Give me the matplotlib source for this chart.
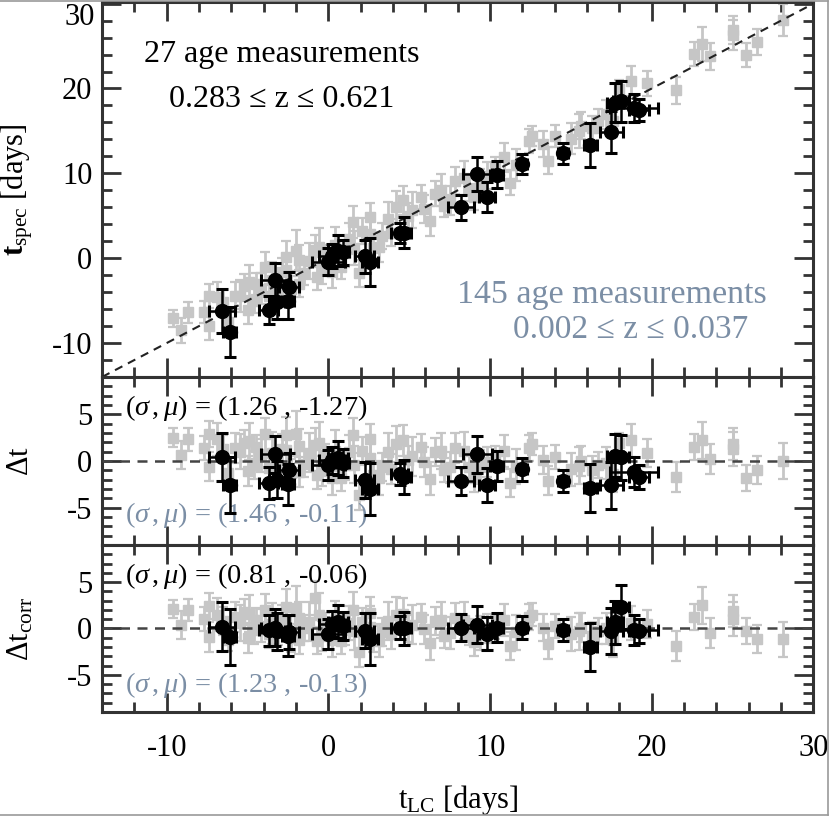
import numpy as np
import matplotlib.pyplot as plt
from matplotlib.ticker import MultipleLocator, FuncFormatter
from matplotlib.lines import Line2D

plt.rcParams['font.family'] = ['Liberation Serif', 'DejaVu Serif']
plt.rcParams['mathtext.fontset'] = 'custom'
plt.rcParams['mathtext.rm'] = 'Liberation Serif'
plt.rcParams['mathtext.it'] = 'Liberation Serif:italic'
plt.rcParams['mathtext.bf'] = 'Liberation Serif:bold'
plt.rcParams['axes.unicode_minus'] = False

# nizky z (sedive ctverecky)
gray_lc = [-9.6, -9.1, -8.7, -7.7, -7.4, -7.4, -6.9, -6.5, -6.2, -5.8,
           -5.5, -5.2, -5.0, -4.9, -4.6, -4.5, -4.2, -3.9, -3.7, -3.5,
           -3.1, -2.9, -2.65, -2.6, -2.3, -2.0, -1.85, -1.85, -1.5, -1.2,
           -0.8, -0.7, -0.6, -0.4, -0.2, 0.2, 0.4, 0.8, 1.0, 1.3,
           1.5, 1.6, 1.9, 2.1, 2.55, 2.6, 2.75, 3.1, 3.3, 3.7,
           3.9, 4.2, 4.6, 4.9, 5.2, 5.7, 5.9, 6.3, 6.6, 6.95,
           7.15, 7.5, 7.8, 8.4, 8.7, 9.0, 9.4, 9.8, 10.3, 10.85,
           11.25, 11.6, 12.4, 12.6, 13.3, 13.6, 14.0, 15.0, 15.5, 15.65,
           16.3, 16.65, 17.2, 17.6, 18.0, 18.7, 19.7, 21.5, 22.6, 23.1,
           23.6, 25.0, 25.05, 25.8, 26.5, 28.1]
gray_spec = [-7.1, -8.5, -6.4, -6.3, -8.0, -4.5, -4.6, -5.2, -7.5, -4.4,
             -4.5, -3.3, -6.1, -2.8, -5.0, -3.0, -3.6, -1.0, -4.5, -2.6,
             -3.8, -1.6, 0.15, -1.4, -3.6, 0.9, -0.25, -3.0, -1.8, -0.3,
             0.95, -2.2, 1.3, -1.5, 0.4, -1.6, 1.5, -1.0, 0.6, 2.3,
             4.25, 1.2, -1.8, 3.2, 4.85, 2.9, 1.2, 1.3, 2.6, 4.65,
             3.0, 6.0, 6.8, 5.0, 5.7, 7.2, 5.8, 4.4, 7.6, 8.0,
             6.2, 6.8, 9.15, 9.5, 8.1, 7.2, 8.75, 9.7, 10.6, 11.9,
             8.9, 11.0, 13.8, 14.4, 13.45, 11.5, 14.4, 14.1, 15.0, 15.6,
             15.3, 16.2, 16.95, 16.2, 19.9, 20.9, 20.6, 19.8, 24.1, 25.3,
             23.8, 26.3, 26.9, 23.95, 25.5, 28.1]
gray_err = [1.0, 1.5, 1.2, 1.3, 1.6, 1.4, 1.8, 1.5, 1.2, 1.6,
            1.9, 1.4, 1.6, 2.0, 1.5, 1.3, 1.8, 1.7, 1.5, 2.2,
            1.4, 1.6, 1.9, 1.3, 1.5, 2.4, 1.8, 1.6, 1.4, 2.1,
            1.8, 1.5, 2.3, 1.6, 1.2, 1.9, 2.2, 1.4, 1.6, 1.8,
            1.9, 2.0, 1.6, 1.5, 1.7, 2.2, 1.4, 1.8, 1.5, 2.0,
            1.6, 1.9, 1.7, 1.5, 2.1, 1.4, 1.6, 1.8, 1.5, 1.9,
            1.3, 1.7, 1.6, 2.0, 1.4, 1.5, 1.8, 1.6, 1.3, 1.7,
            1.5, 1.9, 1.4, 1.2, 1.5, 1.6, 1.3, 1.8, 2.0, 1.6,
            1.5, 1.4, 1.7, 1.9, 1.1, 1.8, 1.5, 1.6, 1.4, 2.0,
            1.6, 1.8, 1.7, 1.4, 1.5, 1.9]
gray_corr = [2.1, 0.4, 2.0, 1.0, -0.9, 2.4, 1.5, 0.8, -1.2, 1.2,
             0.6, 1.8, -1.0, 1.6, -0.2, 0.9, 0.3, 2.0, -0.6, 0.5,
             -0.4, 0.9, 2.3, 0.8, -1.0, 2.2, 1.1, -1.2, 0.0, 0.7,
             3.3, -1.3, 1.5, -0.8, 0.5, -1.2, 0.8, -1.4, -0.2, 0.6,
             2.0, -0.3, -2.5, 0.7, 1.7, 0.2, -1.1, -1.3, -0.4, 0.8,
             -0.6, 1.5, 1.6, 0.0, 0.4, 1.2, -0.1, -1.6, 0.8, 0.9,
             -0.8, -0.5, 1.1, 0.9, -0.4, -1.5, -0.5, 0.0, 0.2, 0.9,
             -1.9, -0.4, 1.2, 1.5, 0.1, -1.7, 0.3, -0.6, -0.3, 0.1,
             -0.8, -0.3, 0.0, -1.2, 1.2, 0.6, 0.45, -1.9, 1.2, 2.5,
             -0.45, 1.0, 1.9, -0.25, -1.15, -1.15]

# vysoky z (cerne kolecka)
black_lc = [-6.6, -6.1, -3.7, -3.3, -3.2, -2.45, -2.5, 0.0, 0.2, 0.6,
            0.9, 2.25, 2.55, 4.4, 4.7, 8.2, 9.2, 9.8, 10.4, 12.0,
            14.5, 16.2, 17.5, 17.75, 18.1, 18.9, 19.2]
black_lc_err = [0.8, 0.4, 0.6, 0.9, 0.5, 0.6, 0.4, 1.0, 0.8, 0.6,
                0.4, 0.6, 0.5, 0.5, 0.4, 0.8, 0.9, 0.5, 0.4, 0.3,
                0.3, 0.4, 0.7, 0.5, 0.5, 1.5, 0.6]
black_spec = [-6.2, -8.7, -6.1, -2.6, -5.2, -3.45, -5.0, -0.4, 0.25, 0.9,
              0.7, 0.2, -0.45, 3.0, 3.0, 6.0, 9.9, 7.2, 9.85, 11.1,
              12.35, 13.3, 14.9, 18.3, 18.5, 17.7, 17.5]
black_spec_err = [2.6, 3.0, 1.7, 2.0, 2.0, 1.8, 2.2, 1.6, 1.4, 1.8,
                  1.5, 1.9, 2.8, 1.2, 1.8, 1.5, 2.0, 1.8, 1.6, 1.2,
                  1.2, 2.6, 2.5, 2.3, 2.4, 1.6, 1.3]
black_corr = [0.2, -0.9, -0.2, 0.1, -0.3, -0.4, -0.8, -0.6, 0.5, 0.75,
              0.3, -0.25, -1.15, 0.1, 0.0, 0.1, 0.4, -0.55, 0.1, 0.1,
              -0.2, -2.0, -0.3, 0.65, 2.3, -0.2, -0.3]

gray_lc = np.array(gray_lc)
gray_spec = np.array(gray_spec)
black_lc = np.array(black_lc)
black_spec = np.array(black_spec)
gray_dt = gray_spec - gray_lc
black_dt = black_spec - black_lc

GRAY = "#c6c6c6"
SLATE = "#7b8ea5"
FRAME = "#333333"
FS = 22      # popisky os
FT = 23      # texty v hornim panelu
FSIG = 20.5  # (sigma, mu)

fig = plt.figure(figsize=(8.3, 8.17), dpi=100)
L, W = 0.123, 0.857
ax1 = fig.add_axes([L, 0.5386, W, 0.459])
ax2 = fig.add_axes([L, 0.333, W, 0.2056])
ax3 = fig.add_axes([L, 0.1285, W, 0.2045])

# tenky ramecek kolem celeho obrazku jako v originale
fig.add_artist(Line2D([0, 0.997], [0.999, 0.999], transform=fig.transFigure, color="#999999", lw=1.2))
fig.add_artist(Line2D([0.997, 0.997], [0.003, 0.999], transform=fig.transFigure, color="#999999", lw=1.2))
fig.add_artist(Line2D([0, 0.997], [0.003, 0.003], transform=fig.transFigure, color="#999999", lw=1.2))


def kresli(ax, yg, yb):
    ax.errorbar(gray_lc, yg, yerr=gray_err, fmt="s", color=GRAY, ms=7,
                elinewidth=2, capsize=3.5, capthick=1.6, zorder=2)
    ax.errorbar(black_lc, yb, xerr=black_lc_err, yerr=black_spec_err, fmt="o",
                color="black", ms=10, elinewidth=1.8, capsize=4.5, capthick=2.2, zorder=4)


kresli(ax1, gray_spec, black_spec)
kresli(ax2, gray_dt, black_dt)
kresli(ax3, gray_corr, black_corr)

ax1.plot([-14, 30], [-14, 30], ls=(0, (4, 3)), color="#222222", lw=1.5, zorder=3)
for ax in (ax2, ax3):
    ax.axhline(0, ls=(0, (4, 3)), color="#444444", lw=1.8, zorder=3)

for ax in (ax1, ax2, ax3):
    ax.set_xlim(-14, 30)
    ax.xaxis.set_major_locator(MultipleLocator(10))
    ax.xaxis.set_minor_locator(MultipleLocator(2))
    ax.tick_params(which="both", direction="in", top=True, right=True,
                   labelsize=FS, color=FRAME, width=2)
    ax.tick_params(axis="y", pad=7)
    ax.tick_params(axis="x", pad=16)
    ax.tick_params(which="major", length=14)
    ax.tick_params(which="minor", length=7)
    for s in ax.spines.values():
        s.set_linewidth(2.2)
        s.set_color(FRAME)
    ax.yaxis.set_label_coords(-0.094, 0.5)

ax1.set_ylim(-14, 30.2)
ax1.yaxis.set_major_locator(MultipleLocator(10))
ax1.yaxis.set_minor_locator(MultipleLocator(2))
# popisek 30 je v originale posunuty dolu
ax1.yaxis.set_major_formatter(FuncFormatter(lambda v, p: "" if v > 25 else f"{v:.0f}"))
ax1.annotate("30", xy=(0, 30), xycoords=("axes fraction", "data"),
             xytext=(-5, -10), textcoords="offset points",
             ha="right", va="center", fontsize=FS)
for ax in (ax2, ax3):
    ax.set_ylim(-9, 9)
    ax.set_yticks([-5, 0, 5])
    ax.yaxis.set_minor_locator(MultipleLocator(1))
ax1.tick_params(labelbottom=False)
ax2.tick_params(labelbottom=False)

ax1.set_ylabel(r"$\mathbf{t}_{\rm spec}$ [days]", fontsize=FS)
ax2.set_ylabel(r"$\Delta$t", fontsize=FS)
ax3.set_ylabel(r"$\Delta \rm t_{corr}$", fontsize=FS)
ax3.set_xlabel(r"$\rm t_{LC}$ [days]", fontsize=FS, labelpad=14)

ax1.text(0.253, 0.86, "27 age measurements", transform=ax1.transAxes,
         ha="center", va="center", fontsize=FT)
ax1.text(0.253, 0.74, "0.283 ≤ z ≤ 0.621", transform=ax1.transAxes,
         ha="center", va="center", fontsize=FT)
ax1.text(0.717, 0.22, "145 age measurements", transform=ax1.transAxes,
         ha="center", va="center", fontsize=24.5, color=SLATE)
ax1.text(0.743, 0.125, "0.002 ≤ z ≤ 0.037", transform=ax1.transAxes,
         ha="center", va="center", fontsize=24, color=SLATE)

ax2.text(0.032, 0.815, r"$(\sigma\,,\mu)$ = (1.26 , -1.27)", transform=ax2.transAxes,
         ha="left", va="center", fontsize=FSIG)
ax2.text(0.032, 0.18, r"$(\sigma\,,\mu)$ = (1.46 , -0.11)", transform=ax2.transAxes,
         ha="left", va="center", fontsize=FSIG, color=SLATE)
ax3.text(0.032, 0.815, r"$(\sigma\,,\mu)$ = (0.81 , -0.06)", transform=ax3.transAxes,
         ha="left", va="center", fontsize=FSIG)
ax3.text(0.032, 0.16, r"$(\sigma\,,\mu)$ = (1.23 , -0.13)", transform=ax3.transAxes,
         ha="left", va="center", fontsize=FSIG, color=SLATE)

fig.savefig("out.png", dpi=100)
